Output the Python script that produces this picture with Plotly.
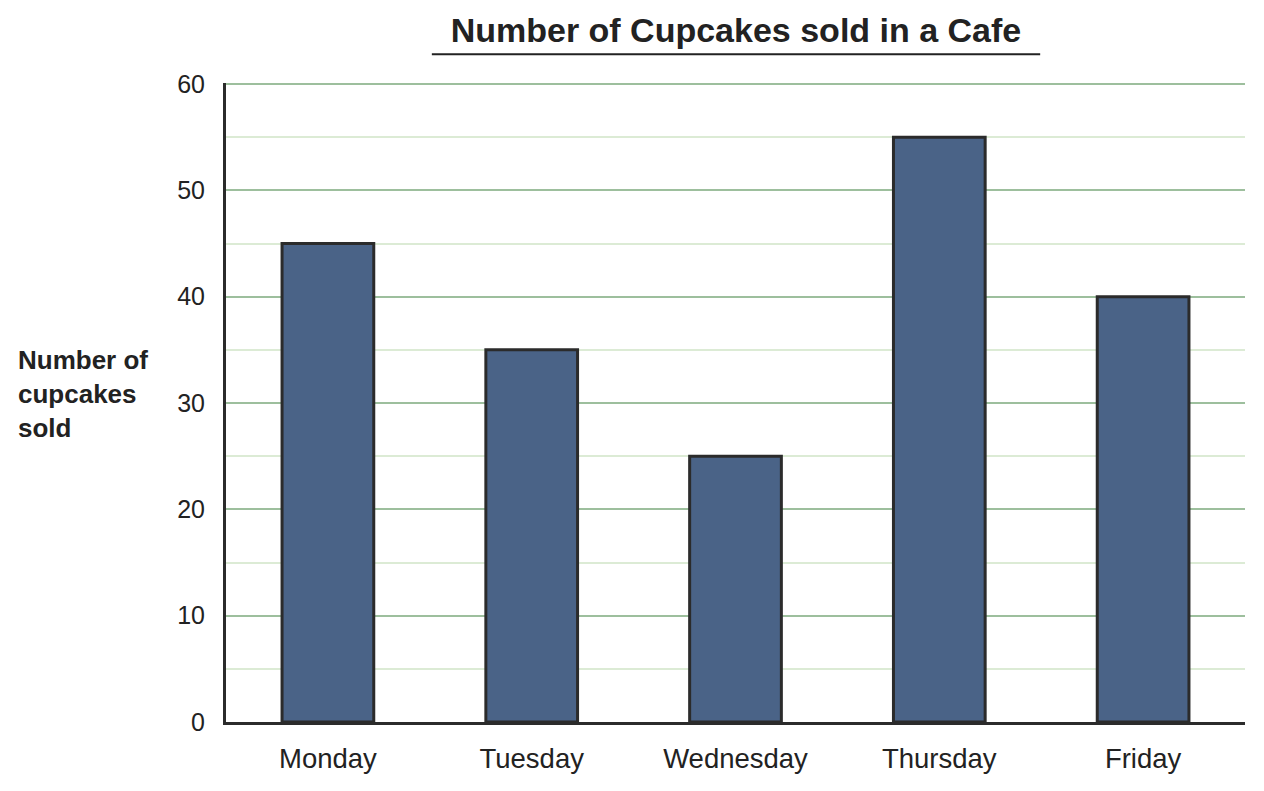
import plotly.graph_objects as go

days = ["Monday", "Tuesday", "Wednesday", "Thursday", "Friday"]
cupcakes = [45, 35, 25, 55, 40]
y_ticks = [0, 10, 20, 30, 40, 50, 60]

fig = go.Figure(go.Bar(
    x=days, y=cupcakes, width=0.45,
    marker=dict(color="#4a6387", line=dict(color="#2b2b2b", width=3)),
))

fig.update_layout(
    width=1256, height=783,
    margin=dict(l=218, r=19, t=75, b=69),
    plot_bgcolor="white", paper_bgcolor="white",
    font=dict(family="Liberation Sans, Arial", size=26, color="#222"),
    showlegend=False,
    title=dict(text="<b>Number of Cupcakes sold in a Cafe</b>", x=0.5796, xanchor="center",
               y=0.972, yanchor="middle", font=dict(size=34, color="#222")),
)
fig.update_xaxes(
    showline=True, linecolor="#2b2b2b", linewidth=3, showgrid=False,
    ticklabelstandoff=10, range=[-0.5, 4.5], tickfont=dict(size=27.5),
)
fig.update_yaxes(
    range=[0, 60.1], tickvals=y_ticks, showline=True, linecolor="#2b2b2b", linewidth=3,
    showgrid=True, gridcolor="#9dbf9d", gridwidth=2, zeroline=False,
    minor=dict(dtick=5, showgrid=True, gridcolor="#dcebd5", gridwidth=2),
    ticklabelstandoff=13, tickfont=dict(size=25),
)

# underline under the title
fig.add_shape(type="line", xref="paper", yref="paper", x0=0.202, x1=0.799, y0=1.045, y1=1.045,
              line=dict(color="#222", width=2))

fig.add_annotation(text="<b>Number of<br>cupcakes<br>sold</b>", xref="paper", yref="paper",
                   x=-0.206, y=0.513, xanchor="left", yanchor="middle", align="left",
                   showarrow=False, font=dict(size=26, color="#222"))

fig.write_html("out.html")
